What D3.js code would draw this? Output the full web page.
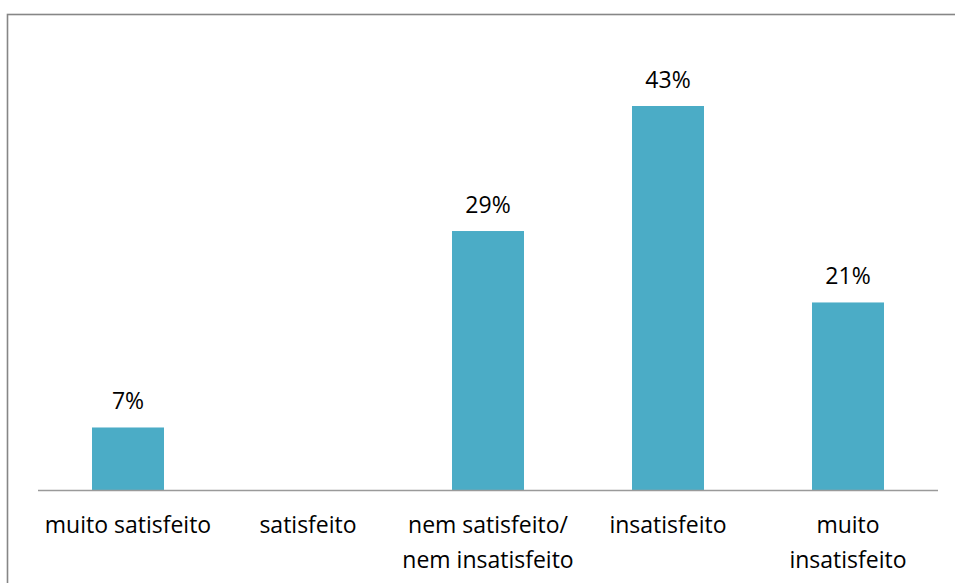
<!DOCTYPE html>
<html><head><meta charset="utf-8">
<script src="https://cdn.jsdelivr.net/npm/d3@7"></script>
<style>html,body{margin:0;padding:0;background:#fff;}svg{display:block;}</style>
</head><body>
<script>
const categories = ["muito satisfeito", "satisfeito", "nem satisfeito/\nnem insatisfeito", "insatisfeito", "muito\ninsatisfeito"];
const values = [7, 0, 29, 43, 21];
const valueLabels = ["7%", "", "29%", "43%", "21%"];

const W = 955, H = 583;
const svg = d3.select("body").append("svg").attr("width", W).attr("height", H);
const font = "'Open Sans', sans-serif";
const fs = 23;

svg.append("rect").attr("x", 7.5).attr("y", 14.5).attr("width", 960).attr("height", 600)
  .attr("fill", "#fff").attr("stroke", "#868686").attr("stroke-width", 1.6);

const x = d3.scaleBand().domain(categories).range([38, 938]).paddingInner(0.6).paddingOuter(0.3);
const y = d3.scaleLinear().domain([0, 43]).range([490, 106]);

svg.selectAll("rect.bar").data(values).join("rect").attr("class", "bar")
  .attr("x", (d, i) => x(categories[i])).attr("width", x.bandwidth())
  .attr("y", d => y(d)).attr("height", d => y(0) - y(d)).attr("fill", "#4bacc6");

svg.selectAll("text.val").data(values).join("text").attr("class", "val")
  .attr("x", (d, i) => x(categories[i]) + x.bandwidth() / 2)
  .attr("y", d => y(d) - 18).attr("text-anchor", "middle")
  .attr("font-family", font).attr("font-size", fs).attr("fill", "#000")
  .text((d, i) => valueLabels[i]);

const axis = d3.axisBottom(x).tickSize(0).tickPadding(0).tickFormat("");
const g = svg.append("g").attr("transform", `translate(0,${y(0)})`).call(axis);
g.select(".domain").attr("stroke", "#9a9a9a").attr("stroke-width", 1.6).attr("d", "M38,0.5H938");

g.selectAll(".tick").each(function (d) {
  const t = d3.select(this).append("text").attr("text-anchor", "middle")
    .attr("font-family", font).attr("font-size", fs).attr("fill", "#000");
  d.split("\n").forEach((line, k) => {
    t.append("tspan").attr("x", 0).attr("y", 43 + k * 35).text(line);
  });
});
</script>
</body></html>
